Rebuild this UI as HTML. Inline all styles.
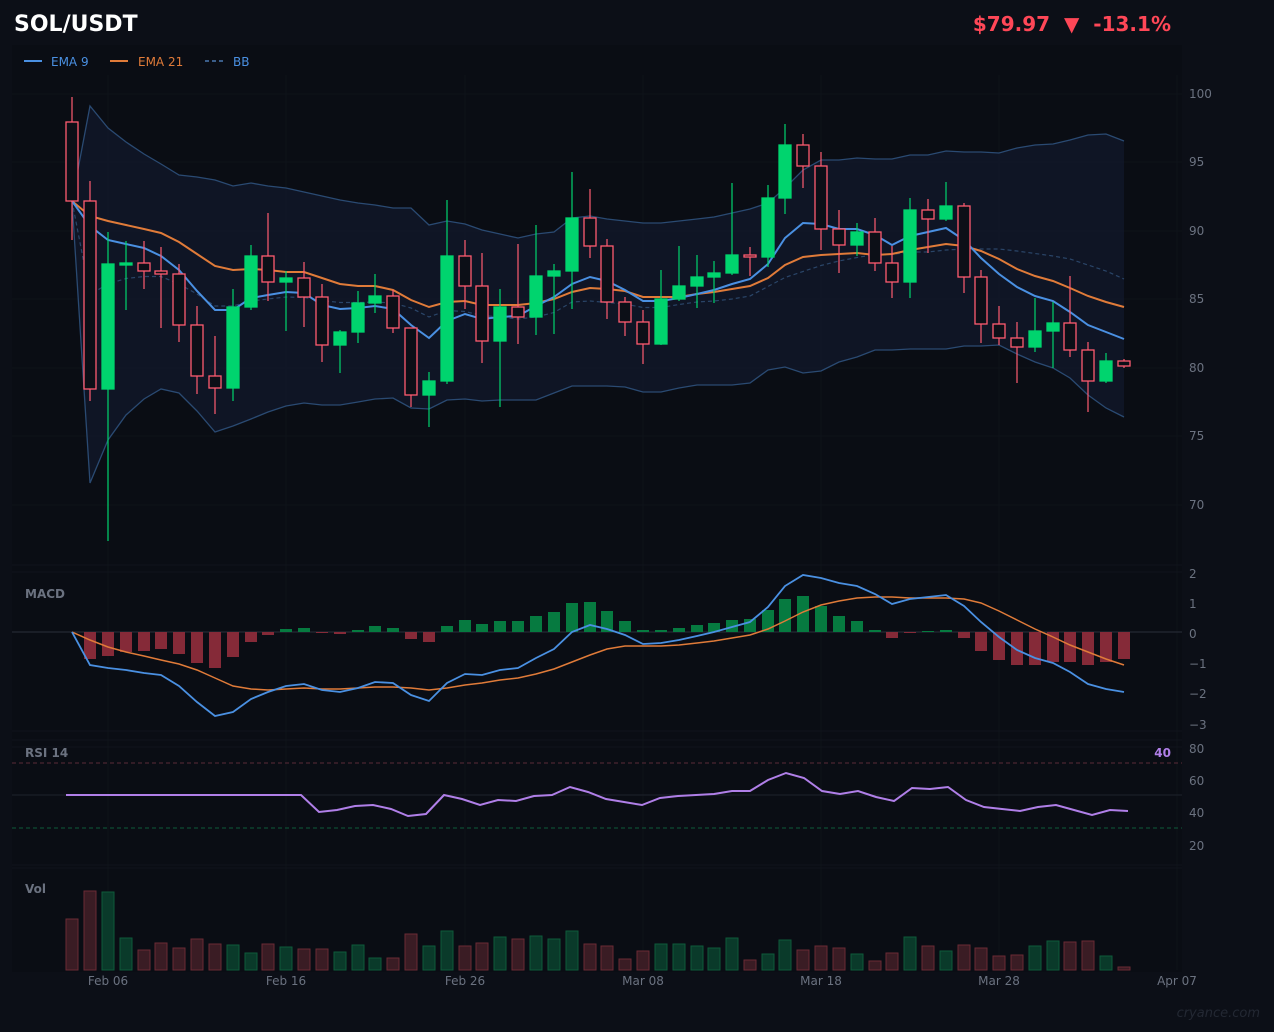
<!DOCTYPE html>
<html><head><meta charset="utf-8"><style>
html,body{margin:0;padding:0;background:#0c0f17;width:1274px;height:1032px;overflow:hidden}
svg{display:block;font-family:"DejaVu Sans","Liberation Sans",sans-serif}
</style></head><body>
<svg id="s" width="1274" height="1032" xmlns="http://www.w3.org/2000/svg">
<rect width="1274" height="1032" fill="#0c0f17"/>
<rect x="12" y="45" width="1170" height="927" fill="#0a0d14"/>
<text x="14" y="31" font-size="22" font-weight="bold" fill="#ffffff">SOL/USDT</text>
<text x="1171" y="31" font-size="20" font-weight="bold" fill="#ff4757" text-anchor="end" xml:space="preserve">$79.97  ▼  -13.1%</text>
<line x1="24" y1="61" x2="42" y2="61" stroke="#4a90e2" stroke-width="2"/>
<text x="51" y="66" font-size="12" fill="#4a90e2">EMA 9</text>
<line x1="110" y1="61" x2="128" y2="61" stroke="#e07b39" stroke-width="2"/>
<text x="138" y="66" font-size="12" fill="#e07b39">EMA 21</text>
<line x1="205" y1="61" x2="223" y2="61" stroke="#4a78b0" stroke-width="1.5" stroke-dasharray="4,3"/>
<text x="233" y="66" font-size="12" fill="#4a90e2">BB</text>
<g id="g"></g>
<text x="25" y="598" font-size="12" font-weight="bold" fill="#6b7280">MACD</text>
<text x="25" y="757" font-size="12" font-weight="bold" fill="#6b7280">RSI 14</text>
<text x="25" y="893" font-size="12" font-weight="bold" fill="#6b7280">Vol</text>
<text x="1171" y="757" font-size="12" font-weight="bold" fill="#b07fe8" text-anchor="end">40</text>
<text x="1260" y="1017" font-size="13" font-style="italic" fill="#232833" text-anchor="end">cryance.com</text>
</svg>
<script>
var X=[72,90,108,126,144,161,179,197,215,233,251,268,286,304,322,340,358,375,393,411,429,447,465,482,500,518,536,554,572,590,607,625,643,661,679,697,714,732,750,768,785,803,821,839,857,875,892,910,928,946,964,981,999,1017,1035,1053,1070,1088,1106,1124];
var C=[["r",122,201,97,240],["r",201,389,181,401],["g",264,389,232,541],["g",263,265,241,310],["r",263,271,241,289],["r",271,274,247,328],["r",274,325,264,342],["r",325,376,306,394],["r",376,388,336,414],["g",307,388,289,401],["g",256,307,245,310],["r",256,282,213,301],["g",278,282,271,331],["r",278,297,262,327],["r",297,345,284,362],["g",332,345,330,373],["g",303,332,291,343],["g",296,303,274,313],["r",296,328,290,333],["r",328,395,328,407],["g",381,395,372,427],["g",256,381,200,384],["r",256,286,240,309],["r",286,341,253,363],["g",307,341,289,407],["r",307,317,244,344],["g",276,317,225,335],["g",271,276,264,334],["g",218,271,172,309],["r",218,246,189,258],["r",246,302,239,319],["r",302,322,297,336],["r",322,344,310,364],["g",299,344,270,345],["g",286,299,246,301],["g",277,286,255,308],["g",273,277,261,303],["g",255,273,183,275],["r",255,257,247,276],["g",198,257,185,267],["g",145,198,124,214],["r",145,166,134,188],["r",166,229,152,250],["r",229,245,210,273],["g",232,245,223,256],["r",232,263,218,271],["r",263,282,246,298],["g",210,282,198,298],["r",210,219,199,253],["g",206,219,182,221],["r",206,277,203,293],["r",277,324,270,343],["r",324,338,306,345],["r",338,347,322,383],["g",331,347,298,352],["g",323,331,302,368],["r",323,350,276,357],["r",350,381,342,412],["g",361,381,353,383],["r",361,366,359,368]];
var E9=[201,226,240,244,248,256,270,291,310,310,298,295,292,293,305,309,308,306,309,325,338,321,314,319,317,316,306,297,284,277,281,290,301,301,298,294,290,284,279,264,238,223,224,229,229,235,245,236,232,228,240,258,274,287,296,301,312,325,332,339];
var E21=[201,216,221,225,229,233,242,254,266,270,269,270,272,272,278,284,286,286,290,300,307,302,301,305,305,305,303,299,292,288,289,291,297,297,297,294,292,289,286,278,265,257,255,254,253,255,254,250,247,244,246,251,259,269,276,281,288,296,302,307];
var BU=[201,106,128,142,154,164,175,177,180,186,183,186,188,192,196,200,203,205,208,208,225,221,224,230,234,238,234,232,218,216,219,221,223,223,221,219,217,213,209,203,188,170,160,160,158,159,159,155,155,151,152,152,153,148,145,144,140,135,134,141];
var BL=[201,483,440,415,399,389,393,411,432,426,419,412,406,403,405,405,402,399,398,408,409,400,399,401,400,400,400,393,386,386,386,387,392,392,388,385,385,385,383,370,367,373,371,362,357,350,350,349,349,349,346,346,345,354,362,368,378,395,408,417];
var H=[632,659,656,652,651,649,654,663,668,657,642,635,629,628,633,634,630,626,628,639,642,626,620,624,621,621,616,612,603,602,611,621,630,630,628,625,623,620,619,610,599,596,606,616,621,630,638,633,631,630,638,651,660,665,665,662,662,665,662,659];
var MB=[632,665,668,670,673,675,686,702,716,712,699,692,686,684,690,692,688,682,683,695,701,683,674,675,670,668,658,649,632,625,629,635,644,643,640,636,632,627,622,607,586,575,578,583,586,594,604,599,597,595,606,622,637,650,658,663,672,684,689,692];
var MS=[632,640,647,652,656,660,664,670,678,686,689,690,689,688,689,689,688,687,687,688,690,688,685,683,680,678,674,669,662,655,649,646,646,646,645,643,641,638,635,629,621,612,605,601,598,597,597,598,598,598,599,603,611,620,629,637,645,652,659,665];
var R=[[66,795],[301,795],[319,812],[337,810],[355,806],[373,805],[391,809],[408,816],[426,814],[444,795],[462,799],[480,805],[498,800],[516,801],[534,796],[552,795],[570,787],[588,792],[606,799],[624,802],[642,805],[660,798],[678,796],[696,795],[714,794],[732,791],[750,791],[768,780],[786,773],[804,778],[822,791],[840,794],[858,791],[876,797],[894,801],[912,788],[930,789],[948,787],[966,800],[984,807],[1002,809],[1020,811],[1038,807],[1056,805],[1074,810],[1092,815],[1110,810],[1128,811]];
var V=[919,891,892,938,950,943,948,939,944,945,953,944,947,949,949,952,945,958,958,934,946,931,946,943,937,939,936,939,931,944,946,959,951,944,944,946,948,938,960,954,940,950,946,948,954,961,953,937,946,951,945,948,956,955,946,941,942,941,956,967];
var o='';
function pl(a,st,w,extra){return '<polyline fill="none" stroke="'+st+'" stroke-width="'+w+'" '+(extra||'')+' points="'+a.map(function(v,i){return X[i]+','+v}).join(' ')+'"/>';}
o+='<rect x="12" y="75" width="1170" height="487" fill="#0a0d14"/>';
[94,162,231,299,368,436,505].forEach(function(y){o+='<line x1="12" x2="1182" y1="'+y+'" y2="'+y+'" stroke="#0e1219"/>';});
[108,286,465,643,821,999,1177].forEach(function(x){o+='<line x1="'+x+'" x2="'+x+'" y1="75" y2="970" stroke="#0e1219"/>';});
[565,572,731,740,747,865,868].forEach(function(y){o+='<line x1="12" x2="1182" y1="'+y+'" y2="'+y+'" stroke="#10141c"/>';});
var poly=BU.map(function(v,i){return X[i]+','+v}).concat(BL.map(function(v,i){return X[i]+','+v}).reverse()).join(' ');
o+='<polygon points="'+poly+'" fill="#111a2c" fill-opacity="0.7"/>';
o+=pl(BU,'#2a4a72',1.3)+pl(BL,'#2a4a72',1.3);
var BM=BU.map(function(v,i){return i==0?201:(v+BL[i])/2});
o+=pl(BM,'#2a4568',1.2,'stroke-dasharray="4,3"');
o+=pl(E21,'#e07b39',2)+pl(E9,'#4a90e2',2);
C.forEach(function(c,i){var x=X[i],g=c[0]=='g',col=g?'#00d46e':'#ff5c70';
o+='<line x1="'+x+'" x2="'+x+'" y1="'+c[3]+'" y2="'+c[4]+'" stroke="'+col+'" stroke-width="1.2"/>';
var h=Math.max(c[2]-c[1],2);
o+='<rect x="'+(x-6)+'" y="'+c[1]+'" width="12" height="'+h+'" fill="'+(g?'#00d46e':'#0c0f17')+'" stroke="'+col+'" stroke-width="1.3"/>';});
[[100,94],[95,162],[90,231],[85,299],[80,368],[75,436],[70,505]].forEach(function(p){o+='<text x="1189" y="'+(p[1]+4)+'" font-size="12" fill="#6b7280">'+p[0]+'</text>';});
o+='<line x1="12" x2="1182" y1="632" y2="632" stroke="#2a2f3a"/>';
H.forEach(function(y,i){if(i==0)return;var top=Math.min(y,632),h=Math.abs(y-632);if(h<1)h=1;
o+='<rect x="'+(X[i]-6)+'" y="'+top+'" width="12" height="'+h+'" fill="'+(y<632?'#067a40':'#852a38')+'"/>';});
o+=pl(MS,'#e07b39',1.5)+pl(MB,'#4a90e2',1.8);
[['2',574],['1',604],['0',634],['−1',664],['−2',694],['−3',725]].forEach(function(p){o+='<text x="1189" y="'+(p[1]+4)+'" font-size="12" fill="#6b7280">'+p[0]+'</text>';});
o+='<line x1="12" x2="1182" y1="763" y2="763" stroke="#5a2a38" stroke-dasharray="4,3"/>';
o+='<line x1="12" x2="1182" y1="828" y2="828" stroke="#0e5a3a" stroke-dasharray="4,3"/>';
o+='<line x1="12" x2="1182" y1="795" y2="795" stroke="#1e232c"/>';
o+='<polyline fill="none" stroke="#b07fe8" stroke-width="2" points="'+R.map(function(p){return p.join(',')}).join(' ')+'"/>';
[['80',749],['60',781],['40',813],['20',846]].forEach(function(p){o+='<text x="1189" y="'+(p[1]+4)+'" font-size="12" fill="#6b7280">'+p[0]+'</text>';});
V.forEach(function(y,i){var g=C[i][0]=='g';
o+='<rect x="'+(X[i]-6)+'" y="'+y+'" width="12" height="'+(970-y)+'" fill="'+(g?'#0a3a2a':'#3a1c24')+'" stroke="'+(g?'#0e5a3a':'#6b2a35')+'" stroke-width="1"/>';});
[['Feb 06',108],['Feb 16',286],['Feb 26',465],['Mar 08',643],['Mar 18',821],['Mar 28',999],['Apr 07',1177]].forEach(function(p){o+='<text x="'+p[1]+'" y="985" font-size="12" fill="#6b7280" text-anchor="middle">'+p[0]+'</text>';});
document.getElementById('g').innerHTML=o;
</script>
</body></html>
